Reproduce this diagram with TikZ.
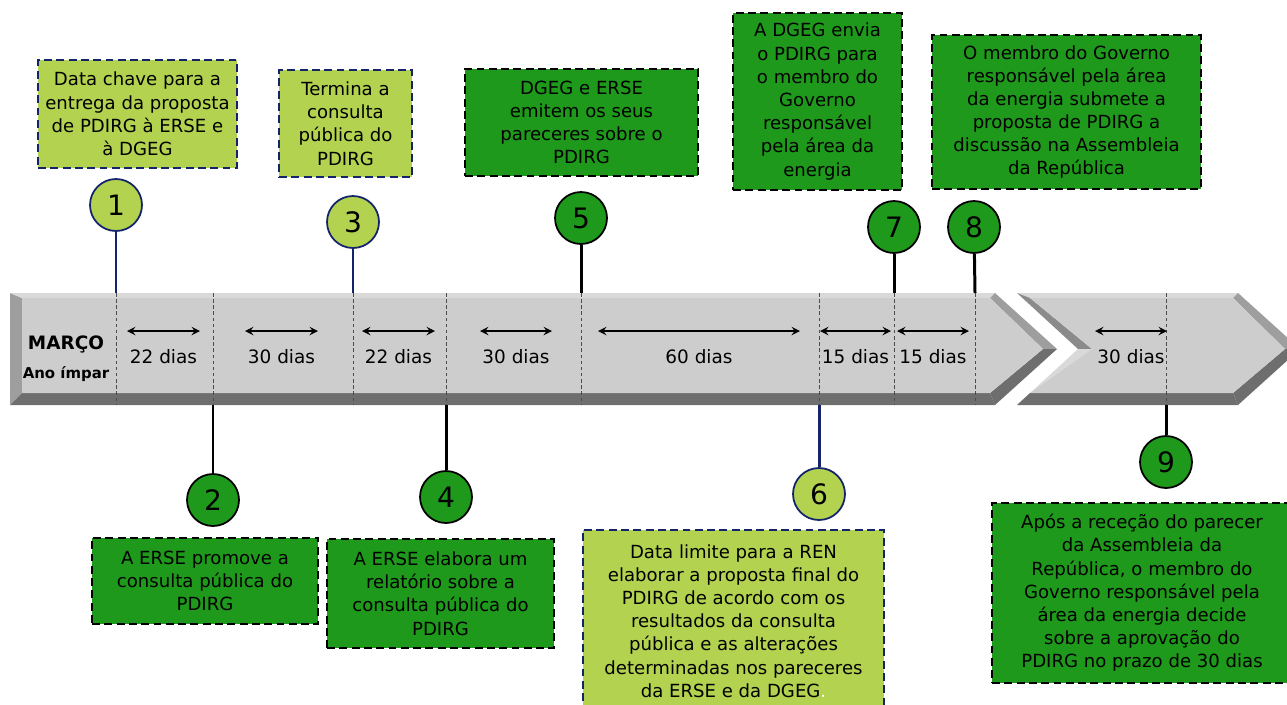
\documentclass[tikz,border=0pt]{standalone}
\usepackage{fontspec}
\setmainfont{DejaVu Sans}
\usepackage{xcolor}
\usetikzlibrary{shapes.geometric, arrows, positioning}
\definecolor{lightgreen}{HTML}{B2D250}
\definecolor{darkgreen}{HTML}{1F991B}
\definecolor{navy}{HTML}{14246B}
\definecolor{faceg}{HTML}{CDCDCD}
\definecolor{topg}{HTML}{D9D9D9}
\definecolor{sideg}{HTML}{9E9E9E}
\definecolor{lowg}{HTML}{6E6E6E}
\tikzstyle{lightbox} = [rectangle, draw=navy, fill=lightgreen, line width=1.4pt, dash pattern=on 4.5pt off 2.5pt, align=center, inner sep=2pt, font=\fontsize{10.3}{13.2}\selectfont]
\tikzstyle{darkbox} = [rectangle, draw=black, fill=darkgreen, line width=1.4pt, dash pattern=on 4.5pt off 2.5pt, align=center, inner sep=2pt, font=\fontsize{10.3}{13.2}\selectfont]
\tikzstyle{lightdot} = [circle, minimum size=1.04cm, inner sep=0pt, draw=navy, fill=lightgreen, line width=1pt, font=\fontsize{16}{16}\selectfont]
\tikzstyle{darkdot} = [circle, minimum size=1.04cm, inner sep=0pt, draw=black, fill=darkgreen, line width=1pt, font=\fontsize{16}{16}\selectfont]
\tikzstyle{navystem} = [navy, line width=1.7pt]
\tikzstyle{blackstem} = [black, line width=1.7pt]
\tikzstyle{daytick} = [black!70, line width=0.5pt, dash pattern=on 2pt off 1.5pt]
\tikzstyle{dayspan} = [line width=1.1pt,<->,>=stealth]

\begin{document}
\begin{tikzpicture}[x=0.02cm, y=-0.02cm]
    \useasboundingbox (0,0) rectangle (1287,704);
    % first band
    \fill[sideg] (10,293) -- (22,298) -- (22,393) -- (10,405) -- cycle;
    \fill[topg] (10,293) -- (995,293) -- (990,298) -- (22,298) -- cycle;
    \fill[sideg] (995,293) -- (1057,349) -- (1043,349) -- (990,298) -- cycle;
    \fill[lowg] (1057,349) -- (995,405) -- (990,393) -- (1043,349) -- cycle;
    \fill[lowg] (10,405) -- (995,405) -- (990,393) -- (22,393) -- cycle;
    \fill[faceg] (22,298) -- (990,298) -- (1043,349) -- (990,393) -- (22,393) -- cycle;
    % second band
    \fill[topg] (1017,293) -- (1238,293) -- (1233,298) -- (1030,298) -- cycle;
    \fill[lowg!80] (1017,293) -- (1078,349) -- (1092,349) -- (1030,298) -- cycle;
    \fill[topg] (1078,349) -- (1017,405) -- (1030,393) -- (1092,349) -- cycle;
    \fill[sideg] (1238,293) -- (1300,349) -- (1285,349) -- (1233,298) -- cycle;
    \fill[lowg] (1300,349) -- (1238,405) -- (1233,393) -- (1285,349) -- cycle;
    \fill[lowg] (1017,405) -- (1238,405) -- (1233,393) -- (1030,393) -- cycle;
    \fill[faceg] (1030,298) -- (1233,298) -- (1285,349) -- (1233,393) -- (1030,393) -- (1092,349) -- cycle;

    \foreach \x in {116,213,353,446,581,819,894,975,1166}
        \draw[daytick] (\x,293) -- (\x,405);

    \node (marco) at (66,344) {\fontsize{10.5}{12}\selectfont\bfseries MARÇO};
    \node (ano) at (66,374) {\fontsize{8.5}{10}\selectfont\bfseries Ano ímpar};

    \foreach \l/\r/\d [count=\i] in {127/200/22,245/318/30,362/435/22,480/552/30,598/800/60,820/891/15,897/969/15,1095/1167/30}{
        \coordinate (al\i) at (\l,331);
        \coordinate (ar\i) at (\r,331);
        \draw[dayspan] (al\i) -- (ar\i);
        \node (lab\i) at ({(\l+\r)/2},357) {\fontsize{10.5}{12}\selectfont \d\ dias};
    }

    % points on the band
    \coordinate (t1) at (116,293);
    \coordinate (t2) at (213,405);
    \coordinate (t3) at (353,293);
    \coordinate (t4) at (446,405);
    \coordinate (t5) at (581,293);
    \coordinate (t6) at (819,405);
    \coordinate (t7) at (894,293);
    \coordinate (t8) at (975,293);
    \coordinate (t9) at (1166,405);

    \node (c1) [lightdot] at (116,205) {1};
    \node (c2) [darkdot] at (213,500) {2};
    \node (c3) [lightdot] at (353,222) {3};
    \node (c4) [darkdot] at (446,497) {4};
    \node (c5) [darkdot] at (581,218) {5};
    \node (c6) [lightdot] at (819,494) {6};
    \node (c7) [darkdot] at (894,227) {7};
    \node (c8) [darkdot] at (974,227) {8};
    \node (c9) [darkdot] at (1166,462) {9};

    \draw[navystem] (c1) -- (t1);
    \draw[blackstem] (c2) -- (t2);
    \draw[navystem] (c3) -- (t3);
    \draw[blackstem] (c4) -- (t4);
    \draw[blackstem] (c5) -- (t5);
    \draw[navystem] (c6) -- (t6);
    \draw[blackstem] (c7) -- (t7);
    \draw[blackstem] (c8) -- (t8);
    \draw[blackstem] (c9) -- (t9);

    \node (box1) [lightbox, minimum width=3.98cm, minimum height=2.16cm] at (137.5,114) {Data chave para a\\entrega da proposta\\de PDIRG à ERSE e\\à DGEG};
    \node (box3) [lightbox, minimum width=2.66cm, minimum height=2.14cm] at (345.5,123.5) {Termina a\\consulta\\pública do\\PDIRG};
    \node (box5) [darkbox, minimum width=4.66cm, minimum height=2.14cm] at (581.5,122.5) {DGEG e ERSE\\emitem os seus\\pareceres sobre o\\PDIRG};
    \node (box7) [darkbox, minimum width=3.38cm, minimum height=3.54cm] at (817.5,101.5) {A DGEG envia\\o PDIRG para\\o membro do\\Governo\\responsável\\pela área da\\energia};
    \node (box8) [darkbox, minimum width=5.38cm, minimum height=3.08cm] at (1066.5,112) {O membro do Governo\\responsável pela área\\da energia submete a\\proposta de PDIRG a\\discussão na Assembleia\\da República};
    \node (box2) [darkbox, minimum width=4.52cm, minimum height=1.72cm] at (205,581) {A ERSE promove a\\consulta pública do\\PDIRG};
    \node (box4) [darkbox, minimum width=4.54cm, minimum height=2.18cm] at (440.5,593.5) {A ERSE elabora um\\relatório sobre a\\consulta pública do\\PDIRG};
    \node (box6) [lightbox, minimum width=6.02cm, minimum height=3.64cm] at (733.5,621) {Data limite para a REN\\elaborar a proposta final do\\PDIRG de acordo com os\\resultados da consulta\\pública e as alterações\\determinadas nos pareceres\\da ERSE e da DGEG{\color{white}.}};
    \node (box9) [darkbox, minimum width=6cm, minimum height=3.6cm] at (1142,593) {Após a receção do parecer\\da Assembleia da\\República, o membro do\\Governo responsável pela\\área da energia decide\\sobre a aprovação do\\PDIRG no prazo de 30 dias};
\end{tikzpicture}
\end{document}
